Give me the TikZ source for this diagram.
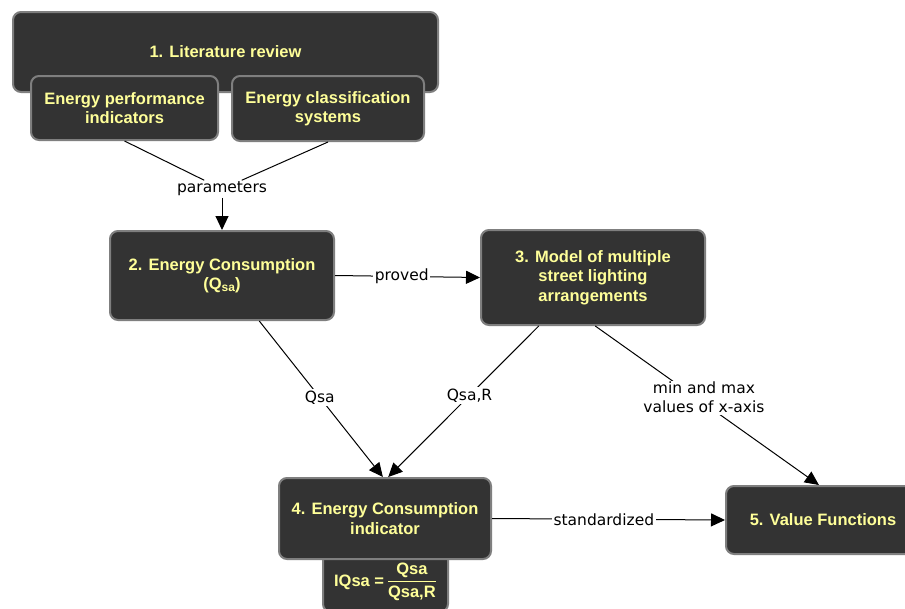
\documentclass[tikz,border=0pt]{standalone}
\usepackage{amsmath}
\usepackage{fontspec}
\setmainfont{Liberation Sans}
\newfontfamily\lblfont{DejaVu Sans}
\usetikzlibrary{arrows.meta,calc}
\definecolor{boxfill}{HTML}{333333}
\definecolor{boxline}{HTML}{7F7F7F}
\definecolor{boxtext}{HTML}{FFFF99}
\begin{document}
\begin{tikzpicture}[x=1pt,y=-1pt,
 box/.style={draw=boxline, line width=2pt, fill=boxfill, rounded corners=8pt, text=boxtext,
   font=\fontsize{16.5}{19.5}\selectfont\bfseries, align=center, inner sep=0pt},
 lbl/.style={fill=white, inner sep=1.5pt, font=\lblfont\fontsize{15.5}{19}\selectfont, align=center},
 conn/.style={line width=1pt, black},
 arr/.style={conn, -{Triangle[length=14pt,width=13pt]}}]
\useasboundingbox (0,0) rectangle (905,608);
\clip (0,0) rectangle (905,608);
\fill[white] (0,0) rectangle (905,608);

% boxes
\node[box, minimum width=425pt, minimum height=80pt] (lit) at (225.5,52) {1. Literature review};
\node[box, minimum width=187pt, minimum height=64pt] (epi) at (124.5,108) {Energy performance\\indicators};
\node[box, minimum width=192pt, minimum height=65pt] (ecs) at (328,108.5) {Energy classification\\systems};
\node[box, minimum width=224pt, minimum height=89pt] (ec) at (222,275.5)
  {2. Energy Consumption\\(Q{\fontsize{12}{12}\selectfont\raisebox{-2pt}{sa}})};
\node[box, minimum width=224pt, minimum height=95pt] (model) at (593,277.5)
  {3. Model of multiple\\street lighting\\arrangements};
\node[box, minimum width=125pt, minimum height=60pt] (formula) at (385.5,582)
  {IQsa =\,$\genfrac{}{}{1.2pt}{0}{\text{Qsa}}{\text{Qsa,R}}$};
\node[box, minimum width=212pt, minimum height=81pt] (eci) at (385,518.5)
  {4. Energy Consumption\\indicator};
\node[box, minimum width=200pt, minimum height=68pt] (vf) at (826,520) {\hspace*{-6pt}5. Value Functions};

% labels
\node[lbl] (par) at (222,189) {parameters};

% connectors
\draw[conn] (epi.south) -- (par);
\draw[conn] (ecs.south) -- (par);
\draw[arr] (par.south) -- (ec.north);
\draw[arr] (ec.east) -- node[lbl, pos=0.46] (prov) {proved} (model.west);

\coordinate (ecout) at ($(ec.south west)!0.665!(ec.south east)$);
\coordinate (eciinA) at ($(eci.north west)!0.49!(eci.north east)$);
\coordinate (modoutA) at ($(model.south west)!0.26!(model.south east)$);
\coordinate (eciinB) at ($(eci.north west)!0.515!(eci.north east)$);
\coordinate (modoutB) at ($(model.south west)!0.51!(model.south east)$);
\coordinate (vfin) at ($(vf.north west)!0.465!(vf.north east)$);

\draw[arr] (ecout) -- node[lbl, pos=0.49] (lqsa) {Qsa} (eciinA);
\draw[arr] (modoutA) -- node[lbl, pos=0.46] (lqsar) {Qsa,R} (eciinB);
\draw[arr] (modoutB) -- node[lbl, pos=0.45, xshift=8pt] (lminmax) {min and max\\values of x-axis} (vfin);
\draw[arr] (eci.east) -- node[lbl, pos=0.48] (lstd) {standardized} (vf.west);
\end{tikzpicture}
\end{document}
